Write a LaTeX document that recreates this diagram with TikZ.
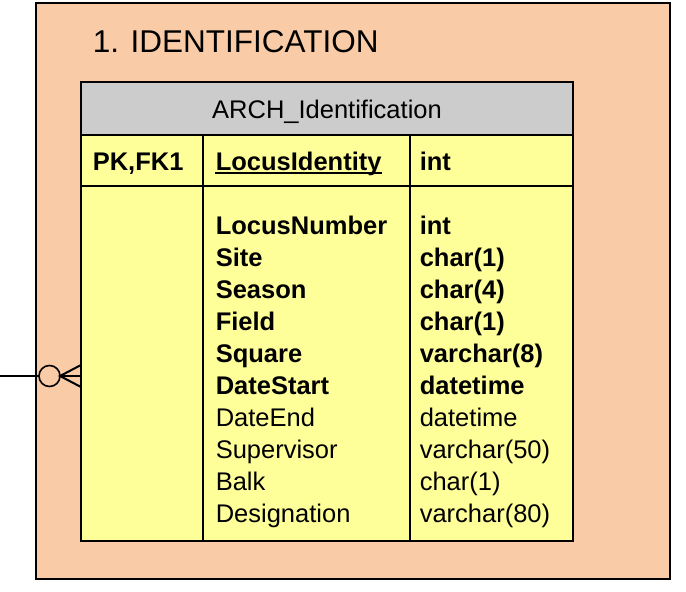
\documentclass[tikz,border=0pt]{standalone}
\usepackage{fontspec}
\setmainfont{Liberation Sans}
\usetikzlibrary{positioning}
\definecolor{peach}{HTML}{F9CBA7}
\definecolor{pale}{HTML}{FFFF99}
\definecolor{headgray}{HTML}{CCCCCC}
\newcommand{\fldsize}{\fontsize{25.5}{30}\selectfont}

\begin{document}
\begin{tikzpicture}[x=1pt,y=-1pt,line width=1.6pt,
  box/.style={draw, anchor=north west, inner sep=0pt, outer sep=0pt},
  cell/.style={box, fill=pale},
  fld/.style={anchor=base west, inner sep=0pt, font=\fldsize},
  keyfld/.style={fld, font=\fldsize\bfseries}]
\useasboundingbox (0,0) rectangle (686,592);
% package
\node[box, fill=peach, minimum width=634, minimum height=576] (pkg) at (36,3) {};
\node[anchor=base west, inner sep=0pt, font=\fontsize{31.5}{36}\selectfont] (title) at (92,52) {1. IDENTIFICATION};
% table
\node[box, fill=headgray, minimum width=492, minimum height=53] (head) at (81,82) {};
\node[fld, anchor=base] (headtxt) at (327,118) {ARCH\_Identification};
\node[cell, minimum width=122, minimum height=51] (pkcol) at (81,135) {};
\node[cell, minimum width=207, minimum height=51] (pkname) at (203,135) {};
\node[cell, minimum width=163, minimum height=51] (pktype) at (410,135) {};
\node[cell, minimum width=122, minimum height=355] (bodycol) at (81,186) {};
\node[cell, minimum width=207, minimum height=355] (bodyname) at (203,186) {};
\node[cell, minimum width=163, minimum height=355] (bodytype) at (410,186) {};
% key row
\node[keyfld] (pk) at (92,170) {PK,FK1};
\node[keyfld] (lid) at (215,170) {LocusIdentity};
\node[keyfld] (lidt) at (419,170) {int};
\draw[line width=1.8pt] ([yshift=-3pt]lid.base west) -- ([yshift=-3pt]lid.base east);
% fields
\node[keyfld] (f1) at (215,234) {LocusNumber};
\node[keyfld] (t1) at (419,234) {int};
\node[keyfld] (f2) at (215,266) {Site};
\node[keyfld] (t2) at (419,266) {char(1)};
\node[keyfld] (f3) at (215,298) {Season};
\node[keyfld] (t3) at (419,298) {char(4)};
\node[keyfld] (f4) at (215,330) {Field};
\node[keyfld] (t4) at (419,330) {char(1)};
\node[keyfld] (f5) at (215,362) {Square};
\node[keyfld] (t5) at (419,362) {varchar(8)};
\node[keyfld] (f6) at (215,394) {DateStart};
\node[keyfld] (t6) at (419,394) {datetime};
\node[fld] (f7) at (215,426) {DateEnd};
\node[fld] (t7) at (419,426) {datetime};
\node[fld] (f8) at (215,458) {Supervisor};
\node[fld] (t8) at (419,458) {varchar(50)};
\node[fld] (f9) at (215,490) {Balk};
\node[fld] (t9) at (419,490) {char(1)};
\node[fld] (f10) at (215,522) {Designation};
\node[fld] (t10) at (419,522) {varchar(80)};
% zero-or-many end
\coordinate (free) at (0,376);
\node[circle, draw, minimum size=21, inner sep=0pt, outer sep=0pt] (zero) at (49.5,376) {};
\coordinate (ftop) at (81,365);
\coordinate (fmid) at (81,376);
\coordinate (fbot) at (81,387);
\draw[line width=2pt] (free) -- (zero);
\draw[line width=2pt] (ftop) -- (zero.east) -- (fbot);
\draw[line width=2pt] (zero.east) -- (fmid);
\end{tikzpicture}
\end{document}
